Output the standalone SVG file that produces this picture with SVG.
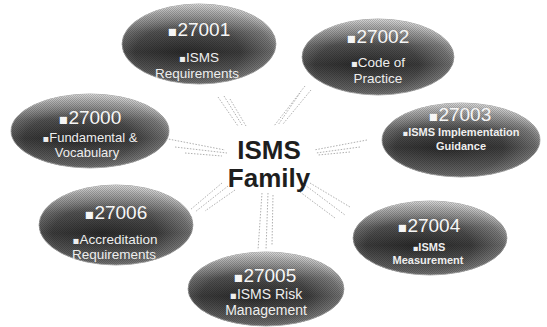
<svg xmlns="http://www.w3.org/2000/svg" width="547" height="327" viewBox="0 0 547 327">
<defs>
<radialGradient id="oval" cx="0.45" cy="0.6" r="0.62" fx="0.4" fy="0.62">
<stop offset="0" stop-color="#2a2a2a"/>
<stop offset="0.55" stop-color="#3c3c3c"/>
<stop offset="0.85" stop-color="#6e6e6e"/>
<stop offset="1" stop-color="#a8a8a8"/>
</radialGradient>
<linearGradient id="gloss" x1="0" y1="0" x2="0" y2="1">
<stop offset="0" stop-color="#ffffff" stop-opacity="0.6"/>
<stop offset="0.35" stop-color="#ffffff" stop-opacity="0.12"/>
<stop offset="0.6" stop-color="#ffffff" stop-opacity="0"/>
<stop offset="1" stop-color="#ffffff" stop-opacity="0.25"/>
</linearGradient>
<pattern id="dither" width="2" height="2" patternUnits="userSpaceOnUse">
<rect x="0" y="0" width="1" height="1" fill="#000"/>
<rect x="1" y="1" width="1" height="1" fill="#000"/>
</pattern>
</defs>
<style>
.oval{fill:url(#oval);stroke:#9a9a9a;stroke-width:0.8}
.gloss{fill:url(#gloss)}
.dith{fill:url(#dither);opacity:0.18}
.num{font-family:"Liberation Sans",Arial,sans-serif;font-size:19px;fill:#f6f6f6;text-anchor:middle}
.sub{font-family:"Liberation Sans",Arial,sans-serif;font-size:13.5px;fill:#eeeeee;text-anchor:middle}
.sm{font-family:"Liberation Sans",Arial,sans-serif;font-size:11px;font-weight:bold;fill:#eeeeee;text-anchor:middle}
.b{font-family:"DejaVu Sans",sans-serif;font-size:0.75em}
.center{font-family:"Liberation Sans",Arial,sans-serif;font-size:26px;font-weight:bold;fill:#1e1e1e;text-anchor:middle}
.ray{stroke:#a6a6a6;stroke-width:0.9;stroke-dasharray:1.5 1.5;fill:none}
</style>
<rect width="547" height="327" fill="#ffffff"/>
<g id="connectors">
<line class="ray" x1="218" y1="97" x2="238" y2="126"/>
<line class="ray" x1="224" y1="96" x2="242" y2="125"/>
<line class="ray" x1="230" y1="99" x2="246" y2="126"/>
<line class="ray" x1="305" y1="86" x2="274" y2="126"/>
<line class="ray" x1="300" y1="93" x2="278" y2="125"/>
<line class="ray" x1="311" y1="90" x2="283" y2="124"/>
<line class="ray" x1="163" y1="138" x2="225" y2="150"/>
<line class="ray" x1="175" y1="147" x2="227" y2="153"/>
<line class="ray" x1="185" y1="153" x2="222" y2="156"/>
<line class="ray" x1="367" y1="140" x2="314" y2="150"/>
<line class="ray" x1="360" y1="147" x2="316" y2="153"/>
<line class="ray" x1="350" y1="152" x2="318" y2="155"/>
<line class="ray" x1="222" y1="183" x2="190" y2="210"/>
<line class="ray" x1="228" y1="186" x2="195" y2="212"/>
<line class="ray" x1="235" y1="190" x2="205" y2="211"/>
<line class="ray" x1="305" y1="185" x2="345" y2="215"/>
<line class="ray" x1="310" y1="183" x2="350" y2="207"/>
<line class="ray" x1="300" y1="192" x2="335" y2="218"/>
<line class="ray" x1="262" y1="193" x2="258" y2="250"/>
<line class="ray" x1="268" y1="193" x2="266" y2="250"/>
<line class="ray" x1="273" y1="195" x2="272" y2="245"/>
</g>
<g id="center">
<text class="center" x="269" y="159">ISMS</text>
<text class="center" x="269" y="187">Family</text>
</g>
<g id="n27001">
<ellipse class="oval" cx="199" cy="44" rx="77" ry="40"/>
<ellipse class="gloss" cx="199" cy="44" rx="77" ry="40"/>
<ellipse class="dith" cx="199" cy="44" rx="77" ry="40"/>
<text class="num" x="199" y="36"><tspan class="b">▪</tspan>27001</text>
<text class="sub" x="199" y="62"><tspan class="b">▪</tspan>ISMS</text>
<text class="sub" x="197" y="78">Requirements</text>
</g>
<g id="n27002">
<ellipse class="oval" cx="378" cy="57" rx="76" ry="38"/>
<ellipse class="gloss" cx="378" cy="57" rx="76" ry="38"/>
<ellipse class="dith" cx="378" cy="57" rx="76" ry="38"/>
<text class="num" x="378" y="43"><tspan class="b">▪</tspan>27002</text>
<text class="sub" x="378" y="67"><tspan class="b">▪</tspan>Code of</text>
<text class="sub" x="378" y="83">Practice</text>
</g>
<g id="n27003">
<ellipse class="oval" cx="461" cy="140" rx="79" ry="37"/>
<ellipse class="gloss" cx="461" cy="140" rx="79" ry="37"/>
<ellipse class="dith" cx="461" cy="140" rx="79" ry="37"/>
<text class="num" x="460" y="121"><tspan class="b">▪</tspan>27003</text>
<text class="sm" x="461" y="136"><tspan class="b">▪</tspan>ISMS Implementation</text>
<text class="sm" x="461" y="150">Guidance</text>
</g>
<g id="n27000">
<ellipse class="oval" cx="90" cy="131" rx="79" ry="37"/>
<ellipse class="gloss" cx="90" cy="131" rx="79" ry="37"/>
<ellipse class="dith" cx="90" cy="131" rx="79" ry="37"/>
<text class="num" x="90" y="124"><tspan class="b">▪</tspan>27000</text>
<text class="sub" x="90" y="142" style="font-size:13px"><tspan class="b">▪</tspan>Fundamental &amp;</text>
<text class="sub" x="87" y="157" style="font-size:13px">Vocabulary</text>
</g>
<g id="n27006">
<ellipse class="oval" cx="116" cy="225" rx="77" ry="40"/>
<ellipse class="gloss" cx="116" cy="225" rx="77" ry="40"/>
<ellipse class="dith" cx="116" cy="225" rx="77" ry="40"/>
<text class="num" x="116" y="219"><tspan class="b">▪</tspan>27006</text>
<text class="sub" x="115" y="244"><tspan class="b">▪</tspan>Accreditation</text>
<text class="sub" x="114" y="259">Requirements</text>
</g>
<g id="n27004">
<ellipse class="oval" cx="430" cy="238" rx="77" ry="37"/>
<ellipse class="gloss" cx="430" cy="238" rx="77" ry="37"/>
<ellipse class="dith" cx="430" cy="238" rx="77" ry="37"/>
<text class="num" x="429" y="232"><tspan class="b">▪</tspan>27004</text>
<text class="sm" x="429" y="251"><tspan class="b">▪</tspan>ISMS</text>
<text class="sm" x="428" y="264">Measurement</text>
</g>
<g id="n27005">
<ellipse class="oval" cx="266" cy="289" rx="78" ry="37"/>
<ellipse class="gloss" cx="266" cy="289" rx="78" ry="37"/>
<ellipse class="dith" cx="266" cy="289" rx="78" ry="37"/>
<text class="num" x="265" y="282"><tspan class="b">▪</tspan>27005</text>
<text class="sub" x="266" y="299" style="font-size:14px"><tspan class="b">▪</tspan>ISMS Risk</text>
<text class="sub" x="266" y="315" style="font-size:14px">Management</text>
</g>
</svg>
